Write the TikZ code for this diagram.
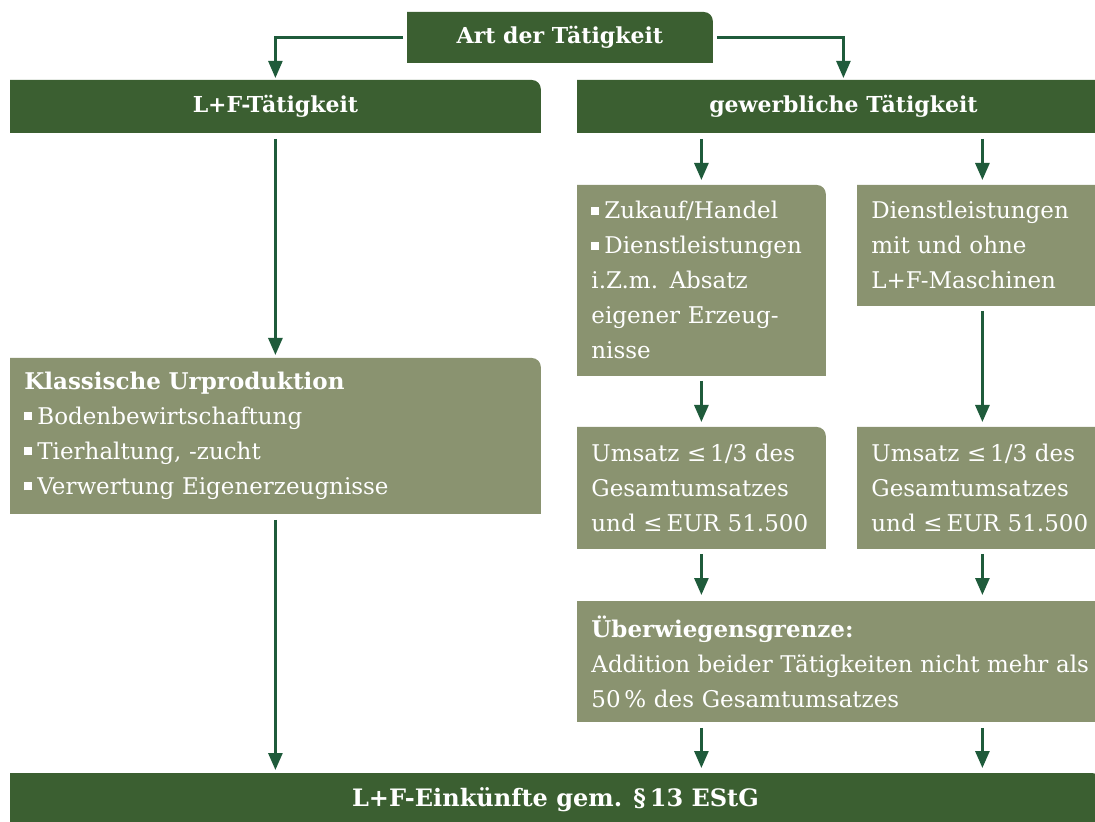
\documentclass[tikz,border=0pt]{standalone}
\usepackage{fontspec}
\setmainfont{DejaVu Serif}
\usepackage{xcolor}
\usetikzlibrary{arrows.meta, positioning, backgrounds}

\definecolor{dunkelgruen}{HTML}{3B5F31}
\definecolor{olivgruen}{HTML}{8A9370}
\definecolor{pfeilgruen}{HTML}{1F5B3B}

\newcommand{\qb}{\rule[0.35ex]{4pt}{4pt}\hspace{2.5pt}}

\begin{document}
\begin{tikzpicture}[
    x=0.5pt, y=-0.5pt,
    schrift/.style={font=\fontsize{11.5}{17.5}\selectfont, text=white},
    titel/.style={text=white, font=\fontsize{11}{17.5}\selectfont\bfseries, anchor=north west, inner sep=0pt},
    kasten/.style={schrift, anchor=north west, align=left, inner xsep=7pt, inner ysep=0pt},
    pfeil/.style={-{Triangle[length=8.5pt, width=7pt]}, line width=1.4pt, draw=pfeilgruen},
    ecke/.store in=\eckradius, ecke=4.5pt
]
\useasboundingbox (0,0) rectangle (1095,822);

% --- Kopf ---
\node[titel, minimum width=152.5pt, minimum height=25pt] (art) at (407,12) {Art der Tätigkeit};
\node[titel, minimum width=265pt, minimum height=26pt] (lf) at (10,80) {L+F-Tätigkeit};
\node[titel, minimum width=266pt, minimum height=26pt] (gew) at (577,80) {gewerbliche Tätigkeit};

% --- linke Spalte ---
\node[kasten, text width=251pt, minimum height=77.5pt] (klass) at (10,358)
    {\textbf{Klassische Urproduktion}\\ \qb Bodenbewirtschaftung\\ \qb Tierhaltung, -zucht\\ \qb Verwertung Eigenerzeugnisse};

% --- rechte Spalten ---
\node[kasten, text width=110pt, minimum height=95pt] (zuk) at (577,185)
    {\qb Zukauf/Handel\\ \qb Dienstleistungen\\ i.Z.m. Absatz\\ eigener Erzeug-\\ nisse};
\node[kasten, text width=111pt, minimum height=60pt] (dienst) at (857,185)
    {Dienstleistungen\\ mit und ohne\\ L+F-Maschinen};
\node[kasten, text width=110pt, minimum height=60.5pt] (ums1) at (577,427)
    {Umsatz ≤\,1/3 des\\ Gesamtumsatzes\\ und ≤\,EUR 51.500};
\node[kasten, text width=111pt, minimum height=60.5pt] (ums2) at (857,427)
    {Umsatz ≤\,1/3 des\\ Gesamtumsatzes\\ und ≤\,EUR 51.500};
\node[kasten, text width=256pt, minimum height=60pt] (ueber) at (577,601)
    {\textbf{Überwiegensgrenze:}\\ Addition beider Tätigkeiten nicht mehr als\\ 50\,\% des Gesamtumsatzes};

% --- Fuss ---
\node[titel, font=\fontsize{12}{17.5}\selectfont\bfseries, minimum width=545pt, minimum height=26pt] (eink) at (10,773)
    {L+F-Einkünfte gem. \S\,13 EStG};

% Hintergründe, nur Ecke oben rechts gerundet
\begin{scope}[on background layer]
\foreach \n/\c in {art/dunkelgruen, lf/dunkelgruen, gew/dunkelgruen, eink/dunkelgruen,
                   klass/olivgruen, zuk/olivgruen, dienst/olivgruen, ums1/olivgruen, ums2/olivgruen, ueber/olivgruen}
  \fill[\c] (\n.south west) |- ([xshift=-\eckradius]\n.north east)
    arc[start angle=90, end angle=0, radius=\eckradius] |- (\n.south west) -- cycle;
\end{scope}

% Pfeile
\draw[pfeil, line width=1.2pt, shorten <=2pt, shorten >=1pt] (art.west) -| (lf.north);
\draw[pfeil, line width=1.2pt, shorten <=2pt, shorten >=1pt] (art.east) -| (gew.north);
\draw[pfeil, shorten <=3pt, shorten >=1.5pt] (lf.south) -- (klass.north);
\draw[pfeil, shorten <=3pt, shorten >=1.5pt] (klass.south) -- (klass.south |- eink.north);
\draw[pfeil, shorten <=3pt, shorten >=2.5pt] (zuk.north |- gew.south) -- (zuk.north);
\draw[pfeil, shorten <=3pt, shorten >=2.5pt] (dienst.north |- gew.south) -- (dienst.north);
\draw[pfeil, shorten <=2.5pt, shorten >=2.5pt] (zuk.south) -- (ums1.north);
\draw[pfeil, shorten <=2.5pt, shorten >=2.5pt] (dienst.south) -- (ums2.north);
\draw[pfeil, shorten <=2.5pt, shorten >=3pt] (ums1.south) -- (ums1.south |- ueber.north);
\draw[pfeil, shorten <=2.5pt, shorten >=3pt] (ums2.south) -- (ums2.south |- ueber.north);
\draw[pfeil, shorten <=3pt, shorten >=2.5pt] (ums1.south |- ueber.south) -- (ums1.south |- eink.north);
\draw[pfeil, shorten <=3pt, shorten >=2.5pt] (ums2.south |- ueber.south) -- (ums2.south |- eink.north);
\end{tikzpicture}
\end{document}
